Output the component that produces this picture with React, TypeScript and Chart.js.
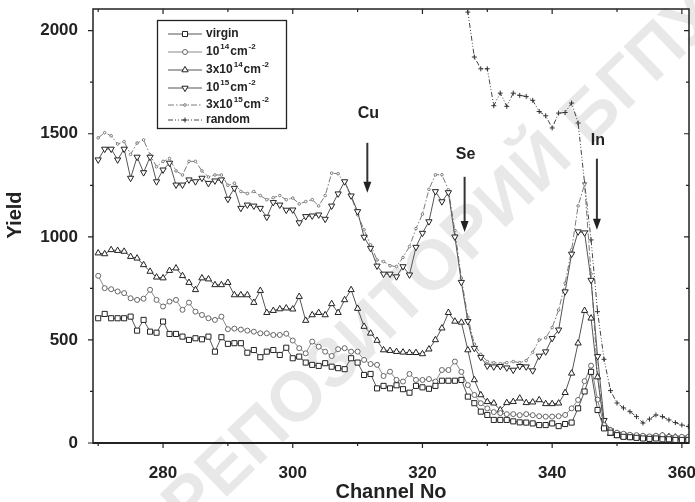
import React, { useEffect, useRef } from 'react';
import { Chart, registerables } from 'chart.js';
import { drawPoint } from 'chart.js/helpers';

Chart.register(...registerables);

const FONT = '"Liberation Sans", Arial, Helvetica, sans-serif';

const channels = [
  270, 271, 272, 273, 274, 275, 276, 277, 278, 279,
  280, 281, 282, 283, 284, 285, 286, 287, 288, 289,
  290, 291, 292, 293, 294, 295, 296, 297, 298, 299,
  300, 301, 302, 303, 304, 305, 306, 307, 308, 309,
  310, 311, 312, 313, 314, 315, 316, 317, 318, 319,
  320, 321, 322, 323, 324, 325, 326, 327, 328, 329,
  330, 331, 332, 333, 334, 335, 336, 337, 338, 339,
  340, 341, 342, 343, 344, 345, 346, 347, 348, 349,
  350, 351, 352, 353, 354, 355, 356, 357, 358, 359,
  360, 361,
];

const virgin = [
  605, 626, 605, 605, 605, 613, 545, 597, 540, 535,
  589, 529, 529, 516, 500, 508, 503, 516, 443, 513,
  481, 484, 484, 438, 451, 416, 443, 451, 427, 462,
  411, 419, 390, 379, 374, 387, 370, 363, 358, 411,
  390, 330, 335, 265, 277, 265, 280, 261, 244, 277,
  270, 263, 277, 302, 302, 302, 306, 225, 193, 152,
  136, 112, 112, 112, 105, 100, 99, 95, 87, 87,
  95, 82, 92, 99, 168, 250, 345, 160, 71, 50,
  38, 30, 28, 25, 22, 20, 22, 18, 18, 15,
  15, 15,
];

const dose1e14 = [
  811, 751, 746, 735, 727, 702, 694, 700, 743, 694,
  662, 686, 694, 646, 681, 637, 621, 605, 597, 613,
  552, 555, 550, 545, 540, 532, 532, 524, 524, 530,
  497, 460, 435, 492, 467, 443, 422, 455, 460, 443,
  443, 403, 383, 379, 325, 346, 306, 298, 335, 306,
  306, 310, 298, 354, 354, 395, 345, 281, 233, 193,
  168, 150, 145, 140, 140, 135, 140, 135, 130, 128,
  128, 130, 136, 168, 209, 300, 375, 210, 87, 62,
  50, 45, 40, 38, 35, 32, 35, 38, 30, 28,
  30, 30,
];

const dose3e14 = [
  921, 917, 937, 933, 929, 904, 896, 864, 832, 804,
  800, 836, 848, 811, 778, 743, 800, 795, 767, 767,
  778, 718, 718, 718, 681, 739, 632, 642, 650, 654,
  649, 710, 594, 621, 632, 621, 675, 632, 694, 743,
  652, 565, 532, 497, 451, 448, 443, 440, 438, 438,
  432, 455, 500, 557, 632, 590, 585, 451, 306, 233,
  200, 193, 160, 195, 200, 217, 195, 198, 209, 190,
  190, 193, 244, 338, 484, 642, 605, 320, 80, 45,
  35, 30, 28, 25, 28, 25, 30, 35, 30, 28,
  25, 25,
];

const dose1e15 = [
  1374, 1426, 1426, 1374, 1426, 1285, 1387, 1312, 1387, 1268,
  1325, 1358, 1252, 1252, 1277, 1268, 1285, 1260, 1272, 1277,
  1183, 1236, 1139, 1155, 1150, 1139, 1096, 1167, 1155, 1130,
  1131, 1069, 1099, 1102, 1107, 1086, 1150, 1209, 1268, 1199,
  1123, 999, 945, 859, 820, 820, 807, 856, 816, 950,
  1018, 1074, 1220, 1171, 1215, 1000, 780, 590, 460, 416,
  374, 370, 372, 365, 354, 372, 370, 351, 422, 443,
  508, 549, 734, 917, 1025, 1020, 790, 420, 110, 60,
  45, 40, 35, 32, 30, 28, 30, 30, 28, 25,
  25, 25,
];

const dose3e15 = [
  1480, 1505, 1490, 1450, 1462, 1400, 1455, 1470, 1398, 1340,
  1366, 1380, 1320, 1300, 1366, 1366, 1320, 1290, 1300, 1300,
  1250, 1260, 1220, 1210, 1220, 1200, 1180, 1190, 1200, 1180,
  1188, 1160, 1171, 1180, 1150, 1200, 1309, 1306, 1261, 1196,
  1107, 1034, 961, 888, 880, 860, 856, 900, 953, 1040,
  1110, 1230, 1301, 1301, 1228, 1030, 800, 610, 480, 430,
  395, 390, 385, 390, 395, 390, 400, 440, 500, 510,
  560, 645, 775, 937, 1150, 1255, 820, 330, 100, 70,
  55, 48, 42, 40, 38, 35, 38, 35, 32, 30,
  30, 30,
];

const randomChannels = [
  325, 326, 327, 328, 329,
  330, 331, 332, 333, 334, 335, 336, 337, 338, 339,
  340, 341, 342, 343, 344, 345, 346, 347, 348, 349,
  350, 351, 352, 353, 354, 355, 356, 357, 358, 359,
  360, 361,
];

const randomYield = [
  2600, 2300, 2090, 1872, 1815,
  1815, 1636, 1697, 1633, 1697, 1686, 1681, 1662, 1608, 1587,
  1528, 1600, 1603, 1649, 1552, 1261, 985, 637, 406, 254,
  194, 170, 152, 128, 97, 116, 136, 128, 112, 99,
  87, 80,
];

const xTicks = [280, 300, 320, 340, 360];
const xMinorTicks = [270, 290, 310, 330, 350];
const yTicks = [0, 500, 1000, 1500, 2000];
const yMinorTicks = [250, 750, 1250, 1750];

const xTitle = 'Channel No';
const yTitle = 'Yield';

// legend text: segments, "sup" = superscript
const legendTexts = [
  [{ t: 'virgin' }],
  [{ t: '10' }, { t: '14', sup: true }, { t: 'cm' }, { t: '-2', sup: true }],
  [{ t: '3x10' }, { t: '14', sup: true }, { t: 'cm' }, { t: '-2', sup: true }],
  [{ t: '10' }, { t: '15', sup: true }, { t: 'cm' }, { t: '-2', sup: true }],
  [{ t: '3x10' }, { t: '15', sup: true }, { t: 'cm' }, { t: '-2', sup: true }],
  [{ t: 'random' }],
];

// element labels with arrows (channel, label yield, arrow start, arrow tip)
const peakLabels = [
  { text: 'Cu', ch: 311.5, yLabel: 1600, yFrom: 1456, yTo: 1214 },
  { text: 'Se', ch: 326.5, yLabel: 1398, yFrom: 1291, yTo: 1024 },
  { text: 'In', ch: 346.9, yLabel: 1466, yFrom: 1379, yTo: 1034 },
];

const watermarkText = 'РЕПОЗИТОРИЙ БГПУ';

const toXY = (xs: number[], ys: number[]) => xs.map((x, i) => ({ x, y: ys[i] }));

const framePlugin = {
  id: 'frameTicks',
  afterDatasetsDraw(chart: any) {
    const { ctx, chartArea: a, scales } = chart;
    const xs = scales.x;
    const ys = scales.y;
    ctx.save();
    ctx.strokeStyle = '#222';
    ctx.lineWidth = 1.5;
    ctx.strokeRect(a.left, a.top, a.right - a.left, a.bottom - a.top);
    ctx.lineWidth = 2;
    ctx.beginPath();
    ctx.moveTo(a.left, a.bottom);
    ctx.lineTo(a.right, a.bottom);
    ctx.stroke();
    ctx.lineWidth = 1.2;
    ctx.beginPath();
    const xt = (v: number, len: number) => {
      const px = xs.getPixelForValue(v);
      ctx.moveTo(px, a.bottom);
      ctx.lineTo(px, a.bottom + len);
      ctx.moveTo(px, a.top);
      ctx.lineTo(px, a.top + len);
    };
    const yt = (v: number, len: number) => {
      const py = ys.getPixelForValue(v);
      ctx.moveTo(a.left, py);
      ctx.lineTo(a.left - len, py);
      ctx.moveTo(a.right, py);
      ctx.lineTo(a.right - len, py);
    };
    xTicks.forEach((v) => xt(v, 5));
    xMinorTicks.forEach((v) => xt(v, 3));
    yTicks.forEach((v) => yt(v, 5));
    yMinorTicks.forEach((v) => yt(v, 3));
    ctx.stroke();
    // y title
    ctx.save();
    ctx.translate(15.5, 215);
    ctx.rotate(-Math.PI / 2);
    ctx.font = `bold 20px ${FONT}`;
    ctx.fillStyle = '#222';
    ctx.textAlign = 'center';
    ctx.textBaseline = 'middle';
    ctx.fillText(yTitle, 0, 0);
    ctx.restore();
    ctx.restore();
  },
};

const watermarkPlugin = {
  id: 'watermark',
  beforeDatasetsDraw(chart: any) {
    const { ctx } = chart;
    ctx.save();
    ctx.translate(442, 262);
    ctx.rotate((-44 * Math.PI) / 180);
    ctx.font = `bold 70px ${FONT}`;
    ctx.fillStyle = 'rgba(0,0,0,0.09)';
    ctx.textAlign = 'center';
    ctx.textBaseline = 'middle';
    ctx.fillText(watermarkText, 0, 0);
    ctx.restore();
  },
};

const peakPlugin = {
  id: 'peaks',
  afterDatasetsDraw(chart: any) {
    const { ctx, scales } = chart;
    ctx.save();
    ctx.fillStyle = '#222';
    ctx.strokeStyle = '#333';
    ctx.font = `bold 16px ${FONT}`;
    ctx.textAlign = 'center';
    ctx.textBaseline = 'middle';
    peakLabels.forEach((p) => {
      const x = scales.x.getPixelForValue(p.ch);
      ctx.fillText(p.text, x + 1, scales.y.getPixelForValue(p.yLabel));
      const y1 = scales.y.getPixelForValue(p.yFrom);
      const y2 = scales.y.getPixelForValue(p.yTo);
      ctx.lineWidth = 2;
      ctx.beginPath();
      ctx.moveTo(x, y1);
      ctx.lineTo(x, y2 - 8);
      ctx.stroke();
      ctx.beginPath();
      ctx.moveTo(x - 4, y2 - 11);
      ctx.lineTo(x + 4, y2 - 11);
      ctx.lineTo(x, y2);
      ctx.closePath();
      ctx.fill();
    });
    ctx.restore();
  },
};

const legendPlugin = {
  id: 'boxLegend',
  afterDraw(chart: any) {
    const { ctx } = chart;
    const rows = [34, 52, 70, 88, 105, 120];
    ctx.save();
    ctx.fillStyle = '#fff';
    ctx.fillRect(157, 20, 129, 108);
    ctx.strokeStyle = '#222';
    ctx.lineWidth = 1.3;
    ctx.strokeRect(157.5, 20.5, 129, 108);
    chart.data.datasets.forEach((ds: any, i: number) => {
      const y = rows[i];
      ctx.strokeStyle = ds.borderColor;
      ctx.lineWidth = 1;
      ctx.setLineDash(ds.borderDash || []);
      ctx.beginPath();
      ctx.moveTo(168, y);
      ctx.lineTo(202, y);
      ctx.stroke();
      ctx.setLineDash([]);
      ctx.fillStyle = '#fff';
      ctx.strokeStyle = ds.pointBorderColor;
      drawPoint(ctx, {
        pointStyle: ds.pointStyle,
        rotation: ds.pointRotation || 0,
        radius: ds.pointRadius,
        borderWidth: 1,
      } as any, 185, y);
      let x = 206;
      ctx.fillStyle = '#222';
      ctx.textAlign = 'left';
      ctx.textBaseline = 'middle';
      legendTexts[i].forEach((seg: any) => {
        if (seg.sup) {
          ctx.font = `bold 8px ${FONT}`;
          ctx.fillText(seg.t, x, y - 5);
          x += ctx.measureText(seg.t).width + 1;
        } else {
          ctx.font = `bold 12px ${FONT}`;
          ctx.fillText(seg.t, x, y);
          x += ctx.measureText(seg.t).width + 1;
        }
      });
    });
    ctx.restore();
  },
};

export default function App() {
  const ref = useRef<HTMLCanvasElement | null>(null);

  useEffect(() => {
    if (!ref.current) return;
    const common = {
      borderWidth: 1,
      pointBorderWidth: 1,
      pointBackgroundColor: '#fff',
      showLine: true,
      fill: false,
      tension: 0,
    };
    const chart = new Chart(ref.current, {
      type: 'line',
      data: {
        datasets: [
          {
            ...common,
            label: 'virgin',
            data: toXY(channels, virgin),
            borderColor: '#555',
            pointBorderColor: '#222',
            pointStyle: 'rect',
            pointRadius: 3.6,
          },
          {
            ...common,
            label: '1e14',
            data: toXY(channels, dose1e14),
            borderColor: '#8a8a8a',
            pointBorderColor: '#666',
            pointStyle: 'circle',
            pointRadius: 2.5,
          },
          {
            ...common,
            label: '3e14',
            data: toXY(channels, dose3e14),
            borderColor: '#555',
            pointBorderColor: '#222',
            pointStyle: 'triangle',
            pointRadius: 3.6,
          },
          {
            ...common,
            label: '1e15',
            data: toXY(channels, dose1e15),
            borderColor: '#555',
            pointBorderColor: '#222',
            pointStyle: 'triangle',
            pointRotation: 180,
            pointRadius: 3.6,
          },
          {
            ...common,
            label: '3e15',
            data: toXY(channels, dose3e15),
            borderColor: '#7a7a7a',
            pointBorderColor: '#7a7a7a',
            pointStyle: 'circle',
            pointRadius: 1.3,
            borderDash: [6, 2, 1.5, 2],
          },
          {
            ...common,
            label: 'random',
            data: toXY(randomChannels, randomYield),
            borderColor: '#444',
            pointBorderColor: '#333',
            pointStyle: 'cross',
            pointRadius: 2.5,
            borderDash: [5, 2, 1, 2, 1, 2],
          },
        ],
      },
      options: {
        animation: false,
        responsive: false,
        devicePixelRatio: 1,
        layout: { padding: { top: 9, right: 6, left: 0, bottom: 0 } },
        plugins: { legend: { display: false }, tooltip: { enabled: false } },
        scales: {
          x: {
            type: 'linear',
            min: 269.2,
            max: 361.1,
            afterFit: (s: any) => {
              s.height = 59;
              s.paddingLeft = 0;
              s.paddingRight = 0;
            },
            afterBuildTicks: (s: any) => {
              s.ticks = xTicks.map((v) => ({ value: v }));
            },
            grid: { display: false, drawTicks: false },
            border: { display: false },
            ticks: {
              color: '#222',
              padding: 20,
              maxRotation: 0,
              autoSkip: false,
              callback: (v: any) => String(v),
              font: { family: FONT, size: 17, weight: 'bold' },
            },
            title: {
              display: true,
              text: xTitle,
              color: '#222',
              padding: { top: 0, bottom: 0 },
              font: { family: FONT, size: 20, weight: 'bold', lineHeight: 1 },
            },
          },
          y: {
            type: 'linear',
            min: 0,
            max: 2105,
            afterFit: (s: any) => {
              s.width = 93;
              s.paddingTop = 0;
              s.paddingBottom = 0;
            },
            afterBuildTicks: (s: any) => {
              s.ticks = yTicks.map((v) => ({ value: v }));
            },
            grid: { display: false, drawTicks: false },
            border: { display: false },
            ticks: {
              color: '#222',
              padding: 15,
              autoSkip: false,
              callback: (v: any) => String(v),
              font: { family: FONT, size: 17, weight: 'bold' },
            },
            title: { display: false },
          },
        },
      },
      plugins: [watermarkPlugin, framePlugin, peakPlugin, legendPlugin],
    } as any);
    return () => chart.destroy();
  }, []);

  return (
    <div style={{ position: 'absolute', left: 0, top: 0, width: 695, height: 502, background: '#fff' }}>
      <canvas ref={ref} width={695} height={502} style={{ display: 'block' }} />
    </div>
  );
}
